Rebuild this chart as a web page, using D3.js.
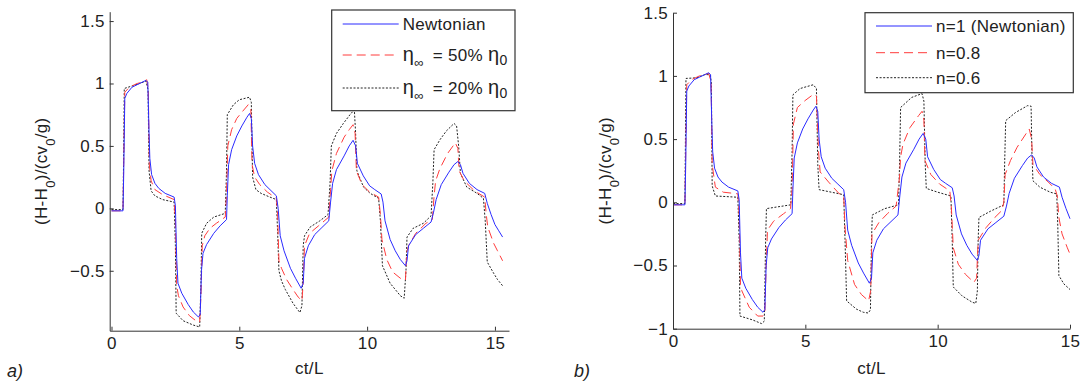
<!DOCTYPE html>
<html>
<head>
<meta charset="utf-8">
<script src="https://cdn.jsdelivr.net/npm/d3@7"></script>
<style>
  body { margin: 0; background: #fff; }
  text { font-family: Arial, "Liberation Sans", sans-serif; fill: #222; }
</style>
</head>
<body>
<svg id="chart" width="1087" height="383"></svg>
<script>
// ---- data: [ct/L, (H-H0)/(cv0/g)] ----
const newtonian = [
  [0,-0.02],[0.45,-0.02],[0.48,0.3],[0.52,0.88],[0.6,0.92],[0.8,0.97],[1.0,0.99],[1.2,1.01],[1.35,1.025],[1.42,1.01],
  [1.47,0.6],[1.5,0.4],[1.57,0.27],[1.7,0.2],[1.85,0.16],[2.1,0.12],[2.45,0.09],[2.5,0.02],[2.55,-0.4],[2.6,-0.6],
  [2.75,-0.68],[3.0,-0.77],[3.2,-0.83],[3.4,-0.87],[3.47,-0.85],[3.52,-0.5],[3.58,-0.36],[3.72,-0.29],[4.0,-0.2],[4.25,-0.14],
  [4.5,-0.09],[4.53,0.1],[4.58,0.35],[4.7,0.47],[4.9,0.58],[5.1,0.66],[5.3,0.73],[5.4,0.76],[5.47,0.72],[5.52,0.5],
  [5.6,0.36],[5.75,0.27],[6.0,0.19],[6.2,0.15],[6.45,0.1],[6.52,0.0],[6.6,-0.22],[6.75,-0.34],[7.0,-0.48],[7.2,-0.56],
  [7.42,-0.64],[7.5,-0.6],[7.55,-0.4],[7.7,-0.3],[7.95,-0.21],[8.2,-0.16],[8.5,-0.1],[8.57,0.05],[8.65,0.2],[8.8,0.31],
  [9.1,0.42],[9.3,0.5],[9.45,0.545],[9.55,0.5],[9.62,0.36],[9.85,0.26],[10.1,0.18],[10.3,0.15],[10.55,0.115],[10.62,0.05],
  [10.7,-0.1],[10.9,-0.25],[11.1,-0.34],[11.3,-0.41],[11.5,-0.46],[11.56,-0.42],[11.62,-0.3],[11.9,-0.21],[12.2,-0.16],[12.5,-0.11],
  [12.6,-0.03],[12.7,0.07],[12.9,0.19],[13.2,0.29],[13.4,0.35],[13.55,0.375],[13.65,0.35],[13.75,0.28],[14.0,0.2],[14.3,0.15],
  [14.6,0.12],[14.7,0.04],[14.85,-0.05],[15.0,-0.13],[15.15,-0.18],[15.3,-0.23]
];

const eta50 = [
  [0,-0.02],[0.45,-0.02],[0.48,0.4],[0.52,0.93],[0.7,0.97],[1.0,1.0],[1.2,1.01],[1.38,1.03],[1.44,0.95],[1.48,0.35],
  [1.55,0.22],[1.7,0.15],[2.0,0.11],[2.45,0.07],[2.5,-0.1],[2.55,-0.62],[2.62,-0.7],[2.8,-0.79],[3.05,-0.86],[3.3,-0.9],
  [3.45,-0.91],[3.5,-0.7],[3.55,-0.3],[3.65,-0.22],[3.85,-0.16],[4.1,-0.12],[4.45,-0.07],[4.5,0.1],[4.55,0.5],[4.7,0.63],
  [4.9,0.72],[5.1,0.77],[5.35,0.83],[5.45,0.8],[5.5,0.35],[5.6,0.25],[5.8,0.19],[6.1,0.13],[6.45,0.08],[6.5,-0.05],
  [6.55,-0.42],[6.65,-0.48],[6.85,-0.57],[7.1,-0.65],[7.3,-0.71],[7.45,-0.74],[7.5,-0.6],[7.55,-0.3],[7.75,-0.2],[8.1,-0.14],
  [8.5,-0.07],[8.57,0.15],[8.62,0.3],[8.8,0.44],[9.1,0.57],[9.3,0.63],[9.45,0.67],[9.53,0.6],[9.58,0.3],[9.8,0.19],
  [10.1,0.13],[10.45,0.09],[10.52,-0.05],[10.58,-0.25],[10.77,-0.41],[11.0,-0.51],[11.3,-0.56],[11.5,-0.575],[11.55,-0.35],[11.62,-0.3],
  [11.9,-0.2],[12.3,-0.12],[12.55,-0.09],[12.62,0.1],[12.68,0.22],[12.85,0.32],[13.15,0.44],[13.45,0.525],[13.55,0.48],[13.6,0.3],
  [13.8,0.22],[14.2,0.14],[14.6,0.09],[14.66,-0.05],[14.72,-0.15],[14.95,-0.28],[15.1,-0.34],[15.3,-0.42]
];

const eta20 = [
  [0,-0.01],[0.45,-0.01],[0.48,0.5],[0.5,0.96],[0.8,0.98],[1.1,1.0],[1.35,1.02],[1.43,0.95],[1.47,0.3],[1.55,0.14],
  [1.7,0.1],[2.0,0.07],[2.45,0.05],[2.5,-0.3],[2.53,-0.84],[2.8,-0.9],[3.2,-0.935],[3.45,-0.95],[3.5,-0.6],[3.53,-0.2],
  [3.72,-0.12],[4.0,-0.07],[4.45,-0.04],[4.5,0.3],[4.53,0.75],[4.77,0.83],[5.0,0.87],[5.4,0.89],[5.47,0.85],[5.52,0.25],
  [5.65,0.15],[5.85,0.12],[6.2,0.09],[6.45,0.07],[6.5,-0.2],[6.55,-0.5],[6.65,-0.58],[6.8,-0.65],[7.1,-0.76],[7.37,-0.835],
  [7.45,-0.78],[7.5,-0.3],[7.55,-0.22],[7.77,-0.15],[8.15,-0.1],[8.47,-0.05],[8.55,0.2],[8.6,0.5],[8.8,0.6],[9.07,0.68],
  [9.33,0.75],[9.5,0.79],[9.55,0.6],[9.6,0.3],[9.86,0.17],[10.12,0.12],[10.45,0.08],[10.52,-0.1],[10.6,-0.46],[10.9,-0.6],
  [11.3,-0.7],[11.45,-0.72],[11.52,-0.5],[11.56,-0.23],[11.8,-0.16],[12.2,-0.12],[12.5,-0.06],[12.57,0.2],[12.62,0.47],[12.85,0.55],
  [13.1,0.62],[13.4,0.68],[13.5,0.66],[13.58,0.5],[13.65,0.28],[13.9,0.17],[14.3,0.12],[14.55,0.08],[14.62,-0.1],[14.7,-0.43],
  [14.95,-0.52],[15.1,-0.57],[15.3,-0.62]
];

const n08 = [
  [0,-0.02],[0.45,-0.02],[0.48,0.4],[0.52,0.93],[0.7,0.97],[1.0,1.0],[1.2,1.01],[1.35,1.02],[1.44,0.95],[1.48,0.3],
  [1.6,0.12],[1.9,0.08],[2.45,0.067],[2.5,-0.1],[2.55,-0.65],[2.6,-0.7],[2.88,-0.83],[3.2,-0.9],[3.4,-0.9],[3.47,-0.88],
  [3.52,-0.5],[3.57,-0.22],[3.8,-0.15],[4.18,-0.09],[4.44,-0.05],[4.5,0.1],[4.55,0.62],[4.7,0.75],[4.99,0.805],[5.31,0.855],
  [5.42,0.84],[5.5,0.4],[5.56,0.24],[5.88,0.16],[6.27,0.07],[6.45,0.05],[6.5,-0.2],[6.6,-0.46],[6.86,-0.65],[7.12,-0.73],
  [7.39,-0.78],[7.47,-0.7],[7.52,-0.25],[7.78,-0.16],[8.1,-0.09],[8.43,-0.03],[8.56,0.2],[8.6,0.36],[8.69,0.46],[8.95,0.59],
  [9.28,0.686],[9.41,0.72],[9.48,0.65],[9.52,0.33],[9.74,0.22],[10.07,0.145],[10.46,0.09],[10.52,-0.05],[10.59,-0.36],[10.78,-0.49],
  [11.05,-0.57],[11.37,-0.633],[11.47,-0.6],[11.53,-0.3],[11.83,-0.2],[12.16,-0.12],[12.42,-0.066],[12.5,0.0],[12.55,0.22],[12.75,0.33],
  [13.0,0.435],[13.33,0.54],[13.46,0.58],[13.55,0.5],[13.6,0.3],[13.86,0.22],[14.18,0.16],[14.44,0.105],[14.52,0.05],[14.58,-0.12],
  [14.7,-0.25],[14.9,-0.36],[15.0,-0.41]
];

const n06 = [
  [0,-0.01],[0.45,-0.01],[0.47,0.5],[0.49,0.98],[0.9,0.985],[1.2,1.01],[1.4,1.01],[1.45,0.95],[1.48,0.13],[1.6,0.05],
  [2.45,0.04],[2.5,-0.3],[2.53,-0.9],[3.0,-0.93],[3.35,-0.96],[3.45,-0.94],[3.5,-0.3],[3.53,-0.05],[4.45,-0.02],[4.5,0.4],
  [4.53,0.85],[4.8,0.9],[5.3,0.93],[5.42,0.9],[5.47,0.3],[5.52,0.1],[6.45,0.06],[6.5,-0.3],[6.56,-0.78],[6.93,-0.845],
  [7.19,-0.87],[7.38,-0.876],[7.46,-0.85],[7.5,-0.3],[7.53,-0.1],[8.0,-0.05],[8.52,-0.02],[8.56,0.3],[8.6,0.75],[9.02,0.83],
  [9.41,0.86],[9.48,0.8],[9.53,0.3],[9.57,0.11],[10.0,0.08],[10.5,0.05],[10.55,-0.3],[10.59,-0.67],[10.92,-0.74],[11.3,-0.79],
  [11.44,-0.8],[11.5,-0.7],[11.53,-0.3],[11.56,-0.12],[12.0,-0.07],[12.5,-0.02],[12.53,0.3],[12.57,0.646],[12.94,0.71],[13.4,0.765],
  [13.53,0.76],[13.56,0.4],[13.6,0.17],[13.86,0.12],[14.25,0.08],[14.5,0.066],[14.54,-0.2],[14.58,-0.58],[14.77,-0.646],[15.0,-0.69]
];

const xTicks = [0, 5, 10, 15];
const yTicksA = [-0.5, 0, 0.5, 1, 1.5];
const yTicksB = [-1, -0.5, 0, 0.5, 1, 1.5];

const blue = "#2b2bff", red = "#ff3c3c", black = "#222";
const redDash = "9,5", blackDash = "2,1.6";

const svg = d3.select("#chart");

function drawPanel(cfg) {
  const x = d3.scaleLinear().domain(cfg.xDomain).range(cfg.xRange);
  const y = d3.scaleLinear().domain(cfg.yDomain).range(cfg.yRange);
  const g = svg.append("g");

  const line = d3.line().x(d => x(d[0])).y(d => y(d[1]));
  // draw dotted/dashed first then the solid line on top
  cfg.series.slice().reverse().forEach(s => {
    g.append("path")
      .datum(s.data)
      .attr("d", line)
      .attr("fill", "none")
      .attr("stroke", s.color)
      .attr("stroke-width", 1)
      .attr("stroke-dasharray", s.dash);
  });

  const xAxis = g.append("g")
    .attr("transform", `translate(0,${cfg.yRange[0]})`)
    .call(d3.axisBottom(x).tickValues(xTicks).tickSizeInner(-4).tickSizeOuter(0).tickPadding(6));
  const yAxis = g.append("g")
    .attr("transform", `translate(${cfg.xRange[0]},0)`)
    .call(d3.axisLeft(y).tickValues(cfg.yTicks).tickSizeInner(-4).tickSizeOuter(0).tickPadding(5)
      .tickFormat(d3.format("")));
  [xAxis, yAxis].forEach(a => {
    a.attr("font-family", null).attr("font-size", null);
    a.selectAll("path, line").attr("stroke", "#333");
    a.selectAll("text").attr("font-size", "17px").attr("letter-spacing", "0.3px").attr("fill", "#222");
  });

  // y label
  const yl = g.append("text")
    .attr("transform", `translate(${cfg.yLabelX},${(cfg.yRange[0] + cfg.yRange[1]) / 2}) rotate(-90)`)
    .attr("text-anchor", "middle")
    .attr("font-size", "17px")
    .attr("letter-spacing", "0.3px");
  yl.append("tspan").text("(H-H");
  yl.append("tspan").attr("baseline-shift", "sub").attr("font-size", "13px").text("0");
  yl.append("tspan").text(")/(cv");
  yl.append("tspan").attr("baseline-shift", "sub").attr("font-size", "13px").text("0");
  yl.append("tspan").text("/g)");

  g.append("text")
    .attr("x", (cfg.xRange[0] + cfg.xRange[1]) / 2)
    .attr("y", 374)
    .attr("text-anchor", "middle")
    .attr("font-size", "17px")
    .attr("letter-spacing", "0.3px")
    .text("ct/L");

  g.append("text")
    .attr("x", cfg.tagX)
    .attr("y", 377)
    .attr("font-size", "18px")
    .attr("font-style", "italic")
    .attr("fill", "#333")
    .text(cfg.tag);

  // legend
  const L = cfg.legend;
  const lg = g.append("g");
  lg.append("rect")
    .attr("x", L.x).attr("y", L.y).attr("width", L.w).attr("height", L.h)
    .attr("fill", "#fff").attr("stroke", "#333").attr("stroke-width", 1.2);
  cfg.series.forEach((s, i) => {
    const ry = L.rows[i];
    lg.append("line")
      .attr("x1", L.x + 11).attr("x2", L.x + 67)
      .attr("y1", ry).attr("y2", ry)
      .attr("stroke", s.color).attr("stroke-width", 1)
      .attr("stroke-dasharray", s.dash);
    const t = lg.append("text")
      .attr("x", L.x + 71).attr("y", ry + 6)
      .attr("font-size", "17px")
      .attr("letter-spacing", "0.3px");
    s.label(t);
  });
}

function etaLabel(pct) {
  return t => {
    t.append("tspan").attr("font-size", "20px").text("\u03B7");
    t.append("tspan").attr("baseline-shift", "-6").attr("font-size", "13px").text("\u221E");
    t.append("tspan").attr("baseline-shift", "0").attr("dx", "4").text(" = " + pct + "% ");
    t.append("tspan").attr("font-size", "20px").text("\u03B7");
    t.append("tspan").attr("baseline-shift", "-4").attr("font-size", "14px").text("0");
  };
}

drawPanel({
  xDomain: [-0.07, 15.55], xRange: [109.7, 509],
  yDomain: [-0.98, 1.575], yRange: [330.7, 11.7],
  yTicks: yTicksA, yLabelX: 47, tag: "a)", tagX: 7,
  series: [
    { data: newtonian, color: blue, dash: null, label: t => t.text("Newtonian") },
    { data: eta50, color: red, dash: redDash, label: etaLabel(50) },
    { data: eta20, color: black, dash: blackDash, label: etaLabel(20) }
  ],
  legend: { x: 331.7, y: 10, w: 183.3, h: 100.7, rows: [24, 55, 88] }
});

drawPanel({
  xDomain: [0, 15], xRange: [673, 1070],
  yDomain: [-1, 1.5], yRange: [328.7, 12.7],
  yTicks: yTicksB, yLabelX: 611, tag: "b)", tagX: 574,
  series: [
    { data: newtonian.filter(d => d[0] <= 15), color: blue, dash: null, label: t => t.text("n=1 (Newtonian)") },
    { data: n08, color: red, dash: redDash, label: t => t.text("n=0.8") },
    { data: n06, color: black, dash: blackDash, label: t => t.text("n=0.6") }
  ],
  legend: { x: 865, y: 12.7, w: 208.3, h: 80, rows: [26, 52.7, 77.7] }
});
</script>
</body>
</html>
